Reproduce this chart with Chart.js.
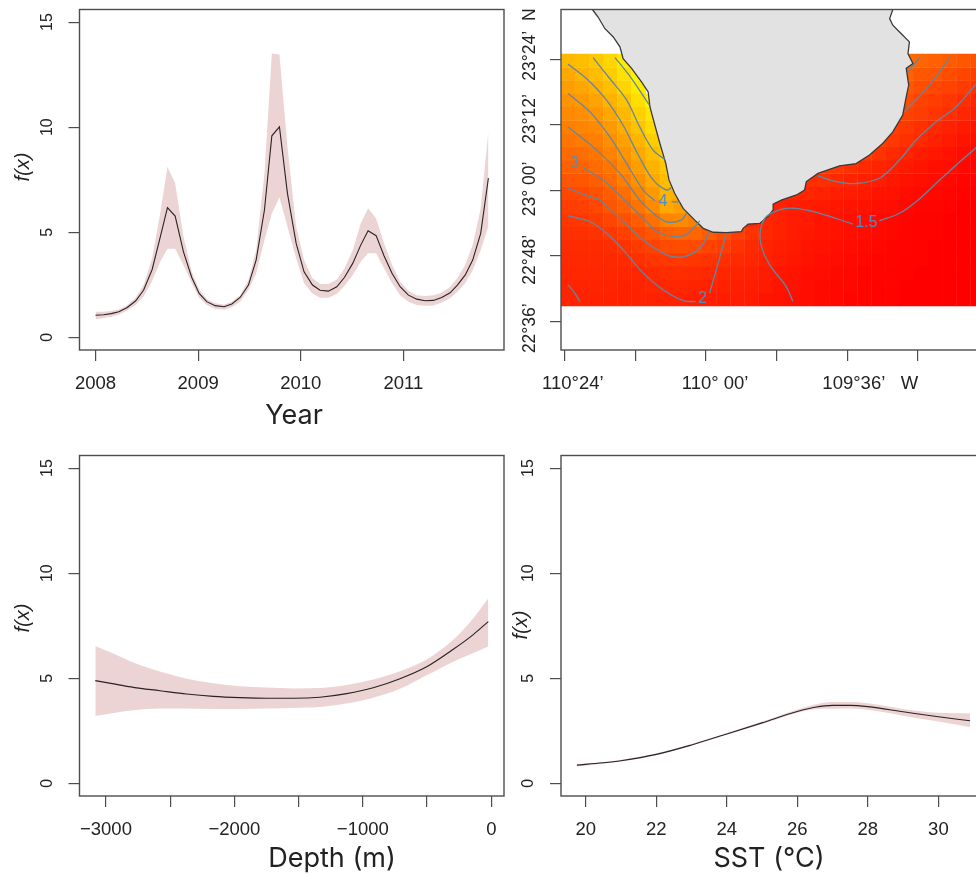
<!DOCTYPE html>
<html>
<head>
<meta charset="utf-8">
<script src="https://cdn.jsdelivr.net/npm/chart.js@4/dist/chart.umd.js"></script>
<style>
html,body{margin:0;padding:0;background:#fff;width:976px;height:875px;overflow:hidden}
canvas{position:absolute;display:block}
</style>
</head>
<body>
<canvas id="year" width="520" height="440" style="left:0;top:0"></canvas>
<canvas id="map" width="500" height="440" style="left:488px;top:0"></canvas>
<canvas id="depth" width="520" height="435" style="left:0;top:440px"></canvas>
<canvas id="sst" width="500" height="435" style="left:488px;top:440px"></canvas>
<script>
// ---------- Panel 1: f(x) against Year ----------
const yearX = [2008,2008.078,2008.153,2008.227,2008.305,2008.39,2008.468,2008.552,2008.63,2008.701,2008.776,2008.857,2008.938,2009.01,2009.084,2009.166,2009.253,2009.328,2009.409,2009.49,2009.565,2009.646,2009.718,2009.792,2009.87,2009.955,2010.032,2010.114,2010.188,2010.269,2010.351,2010.425,2010.506,2010.584,2010.656,2010.734,2010.812,2010.89,2010.968,2011.049,2011.13,2011.211,2011.292,2011.373,2011.455,2011.526,2011.601,2011.675,2011.753,2011.828];
const yearFit = [1.05,1.08,1.13,1.22,1.41,1.73,2.24,3.23,4.76,6.17,5.77,4.07,2.85,2.09,1.7,1.51,1.46,1.59,1.9,2.49,3.68,6.06,9.59,10.02,6.85,4.47,3.12,2.49,2.24,2.2,2.41,2.85,3.52,4.39,5.07,4.84,3.87,3.04,2.41,2.01,1.82,1.74,1.76,1.9,2.12,2.49,2.96,3.68,4.95,7.58];
const yearUpper = [1.22,1.22,1.25,1.33,1.52,1.89,2.49,3.76,5.9,8.12,7.33,4.79,3.12,2.28,1.82,1.62,1.57,1.7,2.01,2.73,4.15,7.8,13.51,13.46,9.07,5.26,3.68,2.81,2.54,2.54,2.76,3.28,4.15,5.42,6.14,5.66,4.47,3.44,2.65,2.22,2.01,1.97,2,2.12,2.41,2.81,3.44,4.39,6.14,9.81];
const yearLower = [0.86,0.92,0.98,1.09,1.27,1.54,1.93,2.68,3.6,4.22,4.22,3.44,2.57,1.89,1.54,1.35,1.32,1.43,1.7,2.25,3.04,4.63,5.9,6.66,5.26,3.76,2.57,2.09,1.89,1.89,2.06,2.44,2.96,3.6,4,4,3.28,2.57,2.01,1.7,1.54,1.51,1.52,1.66,1.86,2.17,2.57,3.2,4.15,5.3];
const yearTicks = [2008,2009,2010,2011];
const yearTickLabels = ['2008','2009','2010','2011'];

// ---------- Panel 3: f(x) against Depth ----------
const depthX = [-3083,-2917,-2787,-2580,-2372,-2164,-1957,-1749,-1542,-1334,-1126,-919,-711,-503,-296,-140,-23];
const depthFit = [4.89,4.71,4.57,4.41,4.25,4.14,4.08,4.05,4.05,4.1,4.27,4.55,4.98,5.55,6.38,7.08,7.7];
const depthUpper = [6.54,6.11,5.75,5.32,4.98,4.76,4.62,4.56,4.52,4.54,4.68,4.94,5.34,5.9,6.83,7.86,8.81];
const depthLower = [3.21,3.37,3.48,3.56,3.56,3.54,3.54,3.56,3.59,3.63,3.8,4.07,4.5,5.14,5.79,6.2,6.51];
const depthTicks = [-3000,-2500,-2000,-1500,-1000,-500,0];
const depthTickLabels = ['\u22123000','','\u22122000','','\u22121000','','0'];

// ---------- Panel 4: f(x) against SST ----------
const sstX = [19.75,20.5,21,22,23,24,25,26,26.5,27,27.5,28,29,30,30.9];
const sstFit = [0.87,0.98,1.08,1.38,1.83,2.35,2.88,3.42,3.62,3.71,3.71,3.65,3.41,3.17,2.98];
const sstUpper = [0.92,1.02,1.12,1.42,1.87,2.39,2.94,3.52,3.75,3.87,3.87,3.81,3.54,3.36,3.33];
const sstLower = [0.81,0.94,1.04,1.34,1.79,2.31,2.82,3.36,3.53,3.55,3.56,3.5,3.22,2.94,2.67];
const sstTicks = [20,22,24,26,28,30];
const sstTickLabels = ['20','22','24','26','28','30'];

const fxTicks = [0,5,10,15];
const fxTickLabels = ['0','5','10','15'];

// ---------- Panel 2: map ----------
const mapLonTicks = [-110.4,-110.2,-110,-109.8,-109.6,-109.4];
const mapLonLabels = ['110°24’','','110° 00’','','109°36’   W',''];
const mapLatTicks = [22.6,22.8,23,23.2,23.4];
const mapLatLabels = ['22°36’','22°48’','23° 00’','23°12’','23°24’  N'];

const heatLons = [-110.391,-110.351,-110.311,-110.271,-110.231,-110.191,-110.151,-110.111,-110.071,-110.031,-109.991,-109.951,-109.911,-109.871,-109.831,-109.791,-109.751,-109.711,-109.671,-109.631,-109.591,-109.551,-109.511,-109.471,-109.431,-109.391,-109.351,-109.311,-109.271,-109.231];
const heatLatEdges = [23.417,23.376,23.336,23.295,23.255,23.214,23.173,23.133,23.092,23.052,23.011,22.971,22.93,22.889,22.849,22.808,22.768,22.727,22.686,22.646];
const _ = null;
const heatGreen = [
[72,74,78,84,92,_,_,_,_,_,_,_,_,_,_,_,_,_,_,_,_,_,_,_,42,40,38,36,34,32],
[66,70,74,80,88,96,_,_,_,_,_,_,_,_,_,_,_,_,_,_,_,_,_,_,38,34,33,30,27,25],
[62,65,69,75,83,92,_,_,_,_,_,_,_,_,_,_,_,_,_,_,_,_,_,_,34,30,28,26,23,20],
[58,60,64,70,77,87,96,_,_,_,_,_,_,_,_,_,_,_,_,_,_,_,_,_,30,26,24,21,18,15],
[54,56,59,65,72,81,90,_,_,_,_,_,_,_,_,_,_,_,_,_,_,_,_,27,26,24,21,18,15,12],
[50,52,54,60,68,77,86,_,_,_,_,_,_,_,_,_,_,_,_,_,_,_,25,24,22,19,16,13,10,8],
[46,48,50,56,63,71,80,_,_,_,_,_,_,_,_,_,_,_,_,_,26,26,26,22,19,16,13,10,8,6],
[42,43,46,51,58,66,75,82,_,_,_,_,_,_,_,_,_,_,_,24,24,24,20,17,14,11,9,7,5,4],
[38,39,42,46,54,62,70,78,_,_,_,_,_,_,_,_,_,_,22,22,19,16,14,12,10,8,6,5,3,2],
[33,34,37,42,49,57,66,74,_,_,_,_,_,_,_,_,18,18,18,16,14,12,11,9,7,6,5,3,2,1],
[28,29,32,37,43,51,60,70,68,_,_,_,_,_,_,15,15,15,13,12,11,10,8,7,5,4,3,2,1,0],
[24,25,28,33,38,45,54,66,62,58,_,_,_,_,13,13,12,11,10,9,8,7,6,5,3,2,2,1,0,0],
[21,22,24,27,31,36,44,52,54,50,46,_,_,15,15,13,11,10,8,7,6,5,4,3,2,1,1,0,0,0],
[19,19,20,22,25,29,33,38,40,40,36,30,24,20,16,13,11,9,8,7,6,5,4,3,2,1,1,0,0,0],
[17,17,17,18,20,23,26,29,30,29,26,24,20,17,14,12,10,8,7,6,5,4,3,2,1,1,0,0,0,0],
[16,16,16,16,17,19,21,22,22,21,20,19,17,15,13,11,9,7,6,5,4,3,2,2,1,1,0,0,0,0],
[15,15,15,15,15,15,17,18,18,17,16,15,14,13,11,9,8,6,5,4,3,2,2,1,1,0,0,0,0,0],
[14,14,14,14,13,14,15,15,15,14,13,13,12,11,10,8,7,5,4,3,3,2,1,1,0,0,0,0,0,0],
[14,14,13,13,13,13,13,13,13,12,12,11,11,10,8,7,6,5,4,3,2,2,1,1,0,0,0,0,0,0]
];

const coastLine = [[-110.322,23.553],[-110.306,23.53],[-110.287,23.495],[-110.263,23.469],[-110.244,23.439],[-110.235,23.403],[-110.211,23.373],[-110.183,23.332],[-110.164,23.301],[-110.159,23.255],[-110.145,23.199],[-110.131,23.144],[-110.114,23.082],[-110.105,23.032],[-110.089,22.991],[-110.065,22.945],[-110.032,22.909],[-110.008,22.884],[-109.98,22.872],[-109.943,22.871],[-109.9,22.874],[-109.895,22.884],[-109.881,22.897],[-109.848,22.899],[-109.825,22.92],[-109.81,22.94],[-109.81,22.958],[-109.787,22.97],[-109.744,22.986],[-109.721,23.001],[-109.716,23.027],[-109.683,23.052],[-109.622,23.075],[-109.575,23.082],[-109.537,23.108],[-109.499,23.144],[-109.471,23.179],[-109.443,23.23],[-109.433,23.286],[-109.426,23.322],[-109.433,23.373],[-109.414,23.388],[-109.428,23.418],[-109.424,23.454],[-109.447,23.479],[-109.471,23.505],[-109.48,23.525],[-109.471,23.553]];

const contourLines = [
[[-110.258,23.406],[-110.211,23.342],[-110.161,23.261]],
[[-110.32,23.406],[-110.273,23.342],[-110.225,23.276],[-110.188,23.194],[-110.15,23.123],[-110.117,23.095]],
[[-110.391,23.386],[-110.339,23.342],[-110.282,23.276],[-110.235,23.199],[-110.192,23.108],[-110.15,23.032],[-110.112,23.001],[-110.098,23.009]],
[[-110.391,23.296],[-110.329,23.24],[-110.273,23.164],[-110.225,23.082],[-110.178,23.001],[-110.145,22.968]],
[[-110.098,22.965],[-110.075,22.965]],
[[-110.391,23.194],[-110.32,23.133],[-110.244,23.052],[-110.188,22.97],[-110.15,22.93],[-110.112,22.904],[-110.07,22.909],[-110.056,22.93]],
[[-110.348,23.069],[-110.292,23.032],[-110.23,22.97],[-110.178,22.915],[-110.131,22.869],[-110.065,22.861],[-110.032,22.889],[-110.018,22.907]],
[[-110.391,23.006],[-110.329,22.981],[-110.301,22.97],[-110.235,22.904],[-110.178,22.848],[-110.112,22.803],[-110.065,22.797],[-110.018,22.823],[-109.99,22.874]],
[[-110.391,22.922],[-110.329,22.904],[-110.282,22.869],[-110.235,22.818],[-110.178,22.747],[-110.122,22.696],[-110.065,22.663],[-110.029,22.66]],
[[-109.99,22.686],[-109.966,22.777],[-109.943,22.869]],
[[-110.391,22.711],[-110.372,22.686],[-110.358,22.66]],
[[-109.754,22.66],[-109.773,22.706],[-109.82,22.772],[-109.843,22.828],[-109.846,22.879],[-109.829,22.92],[-109.787,22.942],[-109.744,22.945],[-109.678,22.93],[-109.584,22.897]],
[[-109.509,22.907],[-109.452,22.93],[-109.4,22.97],[-109.343,23.027],[-109.292,23.077],[-109.237,23.129],[-109.197,23.169]],
[[-109.683,23.044],[-109.631,23.027],[-109.575,23.021],[-109.509,23.037],[-109.452,23.093],[-109.405,23.154],[-109.348,23.21],[-109.292,23.255],[-109.237,23.322],[-109.197,23.362]],
[[-109.438,23.24],[-109.367,23.322],[-109.31,23.406]],
[[-109.428,23.362],[-109.395,23.406]]
];
const contourLabels = ['3','4','2','1.5'];
const contourLabelLons = [-110.372,-110.122,-110.01,-109.546];
const contourLabelLats = [23.082,22.965,22.67,22.902];

// ---------- Shared drawing helpers ----------
const LABEL_FONT = '"Liberation Sans", Arial, sans-serif';
const TITLE_FONT = 'Inter, "Liberation Sans", sans-serif';
const INK = '#222';
const FRAME = '#4d4d4d';
const BAND = '#ecd4d4';

const frameAndText = {
  id: 'frameAndText',
  afterDraw(chart, args, opts) {
    const ctx = chart.ctx, a = chart.chartArea;
    ctx.save();
    ctx.strokeStyle = FRAME;
    ctx.lineWidth = 1.4;
    ctx.strokeRect(a.left, a.top, a.right - a.left, a.bottom - a.top);
    ctx.fillStyle = INK;
    ctx.textAlign = 'center';
    ctx.textBaseline = 'middle';
    (opts.texts || []).forEach(t => {
      ctx.save();
      ctx.translate(t.x, t.y);
      if (t.rotate) ctx.rotate(-Math.PI / 2);
      ctx.font = t.font;
      ctx.fillText(t.text, 0, 0);
      ctx.restore();
    });
    ctx.restore();
  }
};

function axis(min, max, ticks, labels, size, fontSize, padding, isY) {
  return {
    type: 'linear', min, max,
    afterBuildTicks: s => { s.ticks = ticks.map(v => ({value: v})); },
    afterFit: s => {
      if (isY) s.width = size; else s.height = size;
      s.paddingTop = 0; s.paddingBottom = 0; s.paddingLeft = 0; s.paddingRight = 0;
    },
    border: {display: false},
    grid: {drawOnChartArea: false, drawTicks: true, tickLength: 11, color: FRAME, lineWidth: 1.2},
    ticks: {
      autoSkip: false,
      minRotation: isY ? 90 : 0, maxRotation: isY ? 90 : 0,
      crossAlign: isY ? 'center' : 'near',
      padding, color: INK,
      font: {family: LABEL_FONT, size: fontSize},
      callback: (v, i) => labels[i]
    }
  };
}

function curvePanel(id, xs, fit, upper, lower, smooth, xAxis, rightPad, topPad, yWidth, yPad, texts) {
  const pts = ys => xs.map((x, i) => ({x, y: ys[i]}));
  const curve = smooth ? {cubicInterpolationMode: 'monotone'} : {tension: 0};
  new Chart(document.getElementById(id), {
    type: 'line',
    data: {datasets: [
      {data: pts(fit), borderColor: '#2a2223', borderWidth: 1.1, pointRadius: 0, fill: false, ...curve},
      {data: pts(upper), borderWidth: 0, borderColor: BAND, backgroundColor: BAND, pointRadius: 0, fill: '+1', ...curve},
      {data: pts(lower), borderWidth: 0, borderColor: BAND, pointRadius: 0, fill: false, ...curve}
    ]},
    options: {
      responsive: false, animation: false,
      layout: {padding: {top: topPad, right: rightPad, left: 0, bottom: 0}},
      plugins: {legend: {display: false}, tooltip: {enabled: false}, frameAndText: {texts}},
      scales: {x: xAxis, y: axis(-0.6, 15.6, fxTicks, fxTickLabels, yWidth, 16, yPad, true)}
    },
    plugins: [frameAndText]
  });
}

const titleFont = '27px ' + TITLE_FONT;
const fxFont = 'italic 20px ' + LABEL_FONT;

curvePanel('year', yearX, yearFit, yearUpper, yearLower, false,
  axis(2007.844, 2011.98, yearTicks, yearTickLabels, 90, 18.5, 12, false), 16, 9.5, 79.5, 12,
  [{text: 'Year', x: 294, y: 416, font: titleFont},
   {text: 'f(x)', x: 23, y: 167, font: fxFont, rotate: true}]);

curvePanel('depth', depthX, depthFit, depthUpper, depthLower, true,
  axis(-3206, 99, depthTicks, depthTickLabels, 79, 18.5, 12, false), 16, 15.5, 79.5, 12,
  [{text: 'Depth (m)', x: 332, y: 419, font: titleFont},
   {text: 'f(x)', x: 23, y: 178, font: fxFont, rotate: true}]);

curvePanel('sst', sstX, sstFit, sstUpper, sstLower, true,
  axis(19.3, 31.35, sstTicks, sstTickLabels, 79, 18.5, 12, false), 2, 15.5, 73, 13,
  [{text: 'SST (°C)', x: 281, y: 419, font: titleFont},
   {text: 'f(x)', x: 33, y: 185, font: fxFont, rotate: true}]);

// ---------- Map panel ----------
const heatDatasets = heatGreen.map((row, r) => {
  const cells = [], colors = [];
  row.forEach((g, c) => {
    if (g === null) return;
    cells.push({x: heatLons[c], y: [heatLatEdges[r + 1], heatLatEdges[r]]});
    colors.push('rgb(255,' + Math.round(g * 2.55) + ',0)');
  });
  return {type: 'bar', data: cells, backgroundColor: colors, borderWidth: 0, grouped: false,
          barThickness: 14.12, inflateAmount: 0.2, order: 3};
});
const contourDatasets = contourLines.map(line => ({
  type: 'line', data: line.map(p => ({x: p[0], y: p[1]})), borderColor: '#5f88a6', borderWidth: 1.3,
  pointRadius: 0, tension: 0.35, fill: false, order: 1
}));
const coastDataset = {
  type: 'line', data: coastLine.map(p => ({x: p[0], y: p[1]})), borderColor: '#3a3a3a', borderWidth: 1.3,
  backgroundColor: '#e2e2e2', pointRadius: 0, tension: 0, fill: 'shape', order: 2
};

const mapLatShift = {'22°36’': 7, '22°48’': 4, '23° 00’': -1.5, '23°12’': -6, '23°24’  N': -15};
const mapLonShift = {'110°24’': 8, '110° 00’': 9, '109°36’   W': 23};
const mapLabelNudge = {
  id: 'mapLabelNudge',
  beforeDraw(chart) {
    const apply = (scale, shift, k) => {
      const items = scale.getLabelItems(chart.chartArea);
      if (items._nudged) return;
      items._nudged = true;
      items.forEach(it => { it.options.translation[k] += shift[it.label] || 0; });
    };
    apply(chart.scales.x, mapLonShift, 0);
    apply(chart.scales.y, mapLatShift, 1);
  },
  afterDatasetsDraw(chart) {
    const ctx = chart.ctx, {x, y} = chart.scales;
    ctx.save();
    ctx.fillStyle = '#4c8fc4';
    ctx.font = '16px ' + LABEL_FONT;
    ctx.textAlign = 'center';
    ctx.textBaseline = 'middle';
    contourLabels.forEach((t, i) => ctx.fillText(t, x.getPixelForValue(contourLabelLons[i]), y.getPixelForValue(contourLabelLats[i])));
    ctx.restore();
  }
};
const mapX = axis(-110.411, -109.207, mapLonTicks, mapLonLabels, 90, 18.5, 12, false);
mapX.offset = false;
mapX.grid.offset = false;
new Chart(document.getElementById('map'), {
  type: 'bar',
  data: {datasets: [...contourDatasets, coastDataset, ...heatDatasets]},
  options: {
    responsive: false, animation: false,
    layout: {padding: {top: 9.5, right: 2, left: 0, bottom: 0}},
    plugins: {legend: {display: false}, tooltip: {enabled: false}, frameAndText: {texts: []}},
    scales: {x: mapX, y: axis(22.512, 23.553, mapLatTicks, mapLatLabels, 73, 17.5, -16, true)}
  },
  plugins: [mapLabelNudge, frameAndText]
});
</script>
</body>
</html>
